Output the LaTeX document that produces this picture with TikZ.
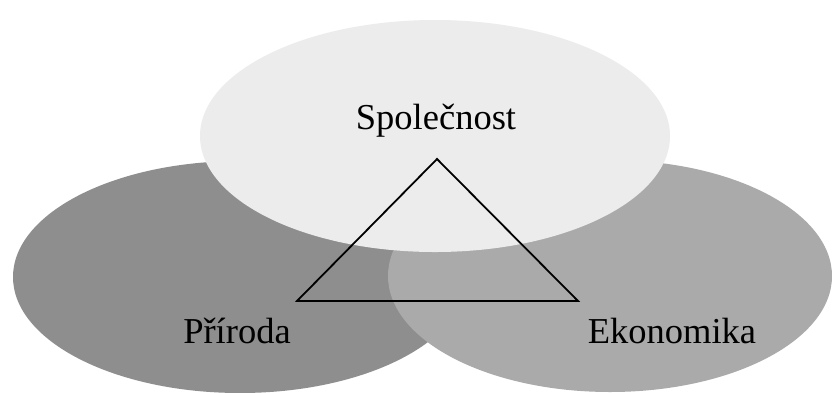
\documentclass[tikz,border=0pt]{standalone}
\usepackage{fontspec}
\setmainfont{Liberation Serif}
\usetikzlibrary{shapes.geometric}
\definecolor{leftgray}{RGB}{142,142,142}
\definecolor{rightgray}{RGB}{170,170,170}
\definecolor{topgray}{RGB}{236,236,236}
\begin{document}
\begin{tikzpicture}[x=1pt,y=-1pt,
  blob/.style={ellipse, inner sep=0pt, draw=none},
  label/.style={anchor=base, inner sep=0pt, font=\fontsize{36.5pt}{40pt}\selectfont},
  tri/.style={draw=black, line width=1.8pt, line join=miter}]
\useasboundingbox (0,0) rectangle (832,392);
\fill[white] (0,0) rectangle (832,392);
\node[blob, fill=leftgray, minimum width=454pt, minimum height=232pt] (priroda) at (240,277) {};
\node[blob, fill=rightgray, minimum width=444pt, minimum height=232pt] (ekonomika) at (610,276) {};
\node[blob, fill=topgray, minimum width=470pt, minimum height=232pt] (spolecnost) at (435,136) {};
\coordinate (apex) at (437,159);
\coordinate (bl) at (297,301);
\coordinate (br) at (578,301);
\draw[tri] (apex) -- (bl) -- (br) -- cycle;
\node[label] (tS) at (436,129) {Společnost};
\node[label] (tP) at (237,343) {Příroda};
\node[label] (tE) at (672,343) {Ekonomika};
\end{tikzpicture}
\end{document}
